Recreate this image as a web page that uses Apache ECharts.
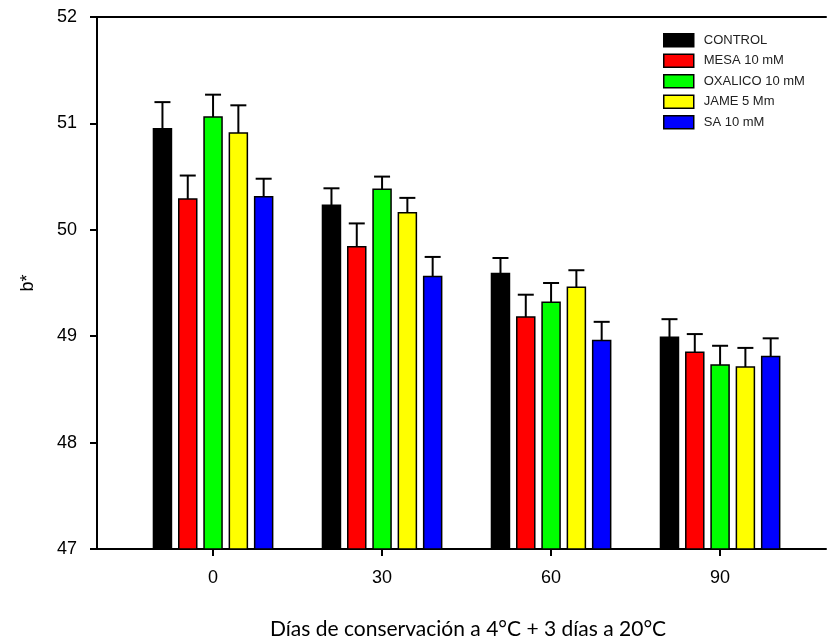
<!DOCTYPE html>
<html>
<head>
<meta charset="utf-8">
<script src="https://cdn.jsdelivr.net/npm/echarts@6/dist/echarts.min.js"></script>
<style>
  html, body { margin: 0; padding: 0; background: #fff; }
  #chart { width: 827px; height: 642px; }
</style>
</head>
<body>
<div id="chart"></div>
<script>
// Storage days (x positions) and treatments
const days = [0, 30, 60, 90];
const dayLabels = ['0', '30', '60', '90'];
const treatments = ['CONTROL', 'MESA 10 mM', 'OXALICO 10 mM', 'JAME 5 Mm', 'SA 10 mM'];
const colors = ['#000000', '#ff0000', '#00ff00', '#ffff00', '#0000ff'];

// Mean b* per treatment at each storage day
const control = [50.95, 50.23, 49.59, 48.99];
const mesa    = [50.29, 49.84, 49.18, 48.85];
const oxalico = [51.06, 50.38, 49.32, 48.73];
const jame    = [50.91, 50.16, 49.46, 48.71];
const sa      = [50.31, 49.56, 48.96, 48.81];

// Standard errors (upper whisker length)
const controlErr = [0.25, 0.16, 0.145, 0.17];
const mesaErr    = [0.22, 0.22, 0.21, 0.17];
const oxalicoErr = [0.21, 0.12, 0.18, 0.18];
const jameErr    = [0.26, 0.14, 0.16, 0.18];
const saErr      = [0.17, 0.185, 0.175, 0.17];

const yTicks = [47, 48, 49, 50, 51, 52];

const means = [control, mesa, oxalico, jame, sa];
const errs = [controlErr, mesaErr, oxalicoErr, jameErr, saErr];

const SANS = 'Arial, "Liberation Sans", sans-serif';
const Y_BASE = 47;
const X_MIN = -20.6;
const X_MAX = 108.8;
const BAR_PITCH = 25.3;
const BAR_HALF = 9;
const CAP_HALF = 8;

function makeSeries(idx) {
  return {
    name: treatments[idx],
    type: 'custom',
    itemStyle: { color: colors[idx], borderColor: '#000', borderWidth: 1.5 },
    data: days.map((d, i) => [d, means[idx][i], errs[idx][i]]),
    renderItem: function (params, api) {
      const x = api.value(0), v = api.value(1), e = api.value(2);
      const off = (idx - 2) * BAR_PITCH;
      const top = api.coord([x, v]);
      const base = api.coord([x, Y_BASE]);
      const hi = api.coord([x, v + e]);
      const cx = top[0] + off;
      return {
        type: 'group',
        children: [
          {
            type: 'line',
            shape: { x1: cx, y1: top[1], x2: cx, y2: hi[1] },
            style: { stroke: '#000', lineWidth: 2 }
          },
          {
            type: 'line',
            shape: { x1: cx - CAP_HALF, y1: hi[1], x2: cx + CAP_HALF, y2: hi[1] },
            style: { stroke: '#000', lineWidth: 2 }
          },
          {
            type: 'rect',
            shape: { x: cx - BAR_HALF, y: top[1], width: BAR_HALF * 2, height: base[1] - top[1] },
            style: { fill: colors[idx], stroke: '#000', lineWidth: 1.5 }
          }
        ]
      };
    }
  };
}

const chart = echarts.init(document.getElementById('chart'), null, { renderer: 'canvas' });

chart.setOption({
  backgroundColor: '#fff',
  animation: false,
  title: {
    text: 'Días de conservación a 4°C + 3 días a 20°C',
    left: 265,
    top: 614,
    textStyle: { fontFamily: 'Lato', fontSize: 21, fontWeight: 'normal', color: '#000' }
  },
  legend: {
    orient: 'vertical',
    left: 663,
    top: 33,
    padding: 0,
    itemWidth: 30,
    itemHeight: 13,
    itemGap: 6,
    icon: 'rect',
    textStyle: { fontFamily: SANS, fontSize: 13, color: '#222', padding: [0, 0, 0, 5] },
    data: treatments.map((t, i) => ({
      name: t,
      itemStyle: { color: colors[i], borderColor: '#000', borderWidth: 1.5 }
    }))
  },
  grid: { left: 97, right: 1, top: 17, bottom: 93, containLabel: false },
  xAxis: [
    {
      type: 'value',
      min: X_MIN,
      max: X_MAX,
      splitLine: { show: false },
      axisLine: { onZero: false, lineStyle: { color: '#000', width: 2 } },
      axisTick: { show: true, length: 7, lineStyle: { color: '#000', width: 2 }, customValues: days },
      axisLabel: {
        customValues: days,
        formatter: v => dayLabels[days.indexOf(v)],
        margin: 20,
        fontFamily: SANS,
        fontSize: 18,
        color: '#000'
      }
    },
    {
      type: 'value',
      position: 'top',
      min: X_MIN,
      max: X_MAX,
      splitLine: { show: false },
      axisLine: { show: true, onZero: false, lineStyle: { color: '#000', width: 2 } },
      axisTick: { show: false },
      axisLabel: { show: false }
    }
  ],
  yAxis: {
    type: 'value',
    min: 47,
    max: 52,
    interval: 1,
    name: 'b*',
    nameLocation: 'middle',
    nameGap: 60,
    nameRotate: 90,
    nameTextStyle: { fontFamily: SANS, fontSize: 18, color: '#000' },
    splitLine: { show: false },
    axisLine: { show: true, onZero: false, lineStyle: { color: '#000', width: 2 } },
    axisTick: { show: true, length: 7, lineStyle: { color: '#000', width: 2 } },
    axisLabel: {
      margin: 20,
      fontFamily: SANS,
      fontSize: 18,
      color: '#000',
      formatter: v => (yTicks.indexOf(v) >= 0 ? String(v) : '')
    }
  },
  series: treatments.map((t, i) => makeSeries(i))
});
</script>
</body>
</html>
